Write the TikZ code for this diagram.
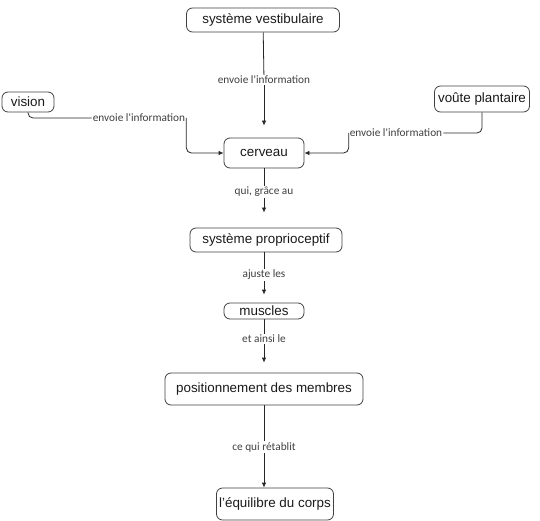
\documentclass[tikz,border=0pt]{standalone}
\usepackage{fontspec}
\setmainfont{Liberation Sans}
\newfontfamily\linkfont{Carlito}
\usetikzlibrary{arrows.meta}
\tikzset{
  concept/.style={draw=black!75, rounded corners=6pt, line width=0.8pt, inner sep=0pt,
    font=\fontsize{13.4}{15}\selectfont, text=black!90},
  linkword/.style={inner sep=1pt, fill=white, font=\linkfont\fontsize{11.3}{13}\selectfont, text=black!75},
  link/.style={draw=black!85, line width=0.8pt},
  linkarrow/.style={link, -{Latex[length=5pt,width=4.5pt]}},
}
\begin{document}
\begin{tikzpicture}[x=1pt,y=-1pt]
\useasboundingbox (0,0) rectangle (540,521);
% concepts
\node[concept, minimum width=153pt, minimum height=24pt] (vest) at (263,20) {système vestibulaire};
\node[concept, minimum width=52pt, minimum height=20pt] (vision) at (28,102) {vision};
\node[concept, minimum width=95pt, minimum height=26pt] (voute) at (482,99) {voûte plantaire};
\node[concept, minimum width=80pt, minimum height=30pt] (cerveau) at (264,153) {cerveau};
\node[concept, minimum width=152pt, minimum height=24pt] (proprio) at (266,240) {système proprioceptif};
\node[concept, minimum width=80pt, minimum height=16pt] (muscles) at (264,311) {muscles};
\node[concept, minimum width=198pt, minimum height=32pt] (membres) at (264,389) {positionnement des membres};
\node[concept, minimum width=117pt, minimum height=32pt] (equilibre) at (275,504) {l'équilibre du corps};
% linking words
\node[linkword] (lvest) at (264,80) {envoie l'information};
\node[linkword] (lvision) at (139,118) {envoie l'information};
\node[linkword] (lvoute) at (396,133) {envoie l'information};
\node[linkword] (lcerveau) at (264,192) {qui, grâce au};
\node[linkword] (lproprio) at (264,275) {ajuste les};
\node[linkword] (lmuscles) at (264,339) {et ainsi le};
\node[linkword] (lmembres) at (264,447) {ce qui rétablit};
% links
\draw[link] (vest) -- (lvest);
\draw[linkarrow, shorten >=12pt] (lvest) -- (cerveau);
\draw[link, rounded corners=5pt] (vision.south) |- (lvision.west);
\draw[linkarrow, rounded corners=5pt] (lvision.east) |- (cerveau.west);
\draw[link, rounded corners=5pt] (voute.south) |- (lvoute.east);
\draw[linkarrow, rounded corners=5pt] (lvoute.west) |- (cerveau.east);
\draw[link] (cerveau) -- (lcerveau);
\draw[linkarrow, shorten >=15pt] (lcerveau) -- (lcerveau |- proprio.north);
\draw[link] (lcerveau |- proprio.south) -- (lproprio);
\draw[linkarrow, shorten >=8pt] (lproprio) -- (muscles);
\draw[link] (muscles) -- (lmuscles);
\draw[linkarrow, shorten >=10pt] (lmuscles) -- (membres);
\draw[link] (membres) -- (lmembres);
\draw[linkarrow] (lmembres) -- (lmembres |- equilibre.north);
\end{tikzpicture}
\end{document}
